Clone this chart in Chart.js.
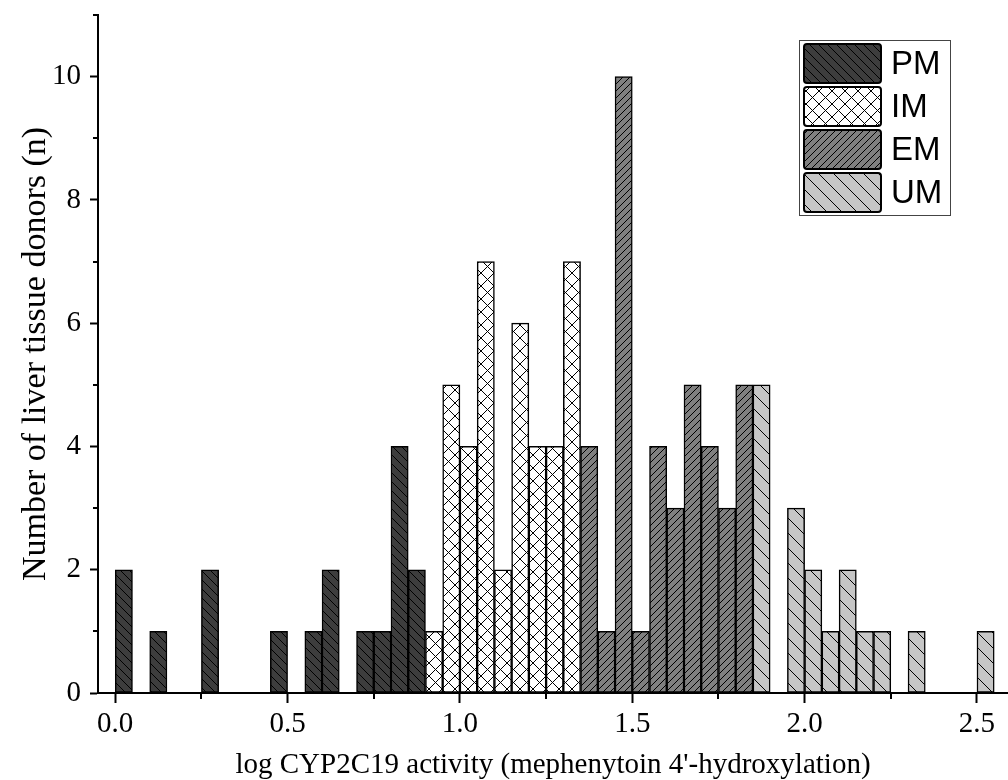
<!DOCTYPE html>
<html>
<head>
<meta charset="utf-8">
<script src="https://cdn.jsdelivr.net/npm/chart.js@4.4.1/dist/chart.umd.min.js"></script>
<style>
  html, body { margin: 0; padding: 0; background: #fff; }
  #wrap { width: 1008px; height: 780px; }
</style>
</head>
<body>
<div id="wrap"><canvas id="histChart"></canvas></div>
<script>
// bin lower edges (log activity) and counts per phenotype group
const binWidth = 0.05;
const pmBins = [0.00, 0.10, 0.25, 0.45, 0.55, 0.60, 0.70, 0.75, 0.80, 0.85];
const pmCounts = [2, 1, 2, 1, 1, 2, 1, 1, 4, 2];
const imBins = [0.90, 0.95, 1.00, 1.05, 1.10, 1.15, 1.20, 1.25, 1.30];
const imCounts = [1, 5, 4, 7, 2, 6, 4, 4, 7];
const emBins = [1.35, 1.40, 1.45, 1.50, 1.55, 1.60, 1.65, 1.70, 1.75, 1.80];
const emCounts = [4, 1, 10, 1, 4, 3, 5, 4, 3, 5];
const umBins = [1.85, 1.95, 2.00, 2.05, 2.10, 2.15, 2.20, 2.30, 2.50];
const umCounts = [5, 3, 2, 1, 2, 1, 1, 1, 1];

const groupLabels = ['PM', 'IM', 'EM', 'UM'];
const xTickLabels = ['0.0', '0.5', '1.0', '1.5', '2.0', '2.5'];
const yTickLabels = ['0', '2', '4', '6', '8', '10'];

function toPoints(bins, counts) {
  return bins.map((b, i) => ({ x: b + binWidth / 2, y: counts[i] }));
}

// hatch fill, tile size s, dirs: '\\' and/or '/'
function hatch(bg, s, dirs) {
  const c = document.createElement('canvas');
  c.width = s; c.height = s;
  const g = c.getContext('2d');
  g.fillStyle = bg;
  g.fillRect(0, 0, s, s);
  g.strokeStyle = '#000';
  g.lineWidth = 1;
  dirs.forEach(d => {
    g.beginPath();
    for (let o = -s; o <= s; o += s) {
      if (d === '\\') { g.moveTo(o, 0); g.lineTo(o + s, s); }
      else { g.moveTo(o, s); g.lineTo(o + s, 0); }
    }
    g.stroke();
  });
  return g.createPattern(c, 'repeat');
}

const fills = [
  hatch('#3d3d3d', 9, ['\\']),
  hatch('#ffffff', 13, ['\\', '/']),
  hatch('#808080', 7, ['/']),
  hatch('#c6c6c6', 15, ['\\'])
];

const isMajorX = v => Math.abs(v / 0.5 - Math.round(v / 0.5)) < 1e-6;
const isMajorY = v => Math.abs(v / 2 - Math.round(v / 2)) < 1e-6;

// short minor ticks + framed legend
const extrasPlugin = {
  id: 'extras',
  afterDraw(chart) {
    const ctx = chart.ctx;
    const area = chart.chartArea;
    const xs = chart.scales.x, ys = chart.scales.y;
    ctx.save();
    ctx.strokeStyle = '#000';
    ctx.lineWidth = 2;
    ctx.beginPath();
    xs.ticks.forEach(t => {
      if (!isMajorX(t.value)) {
        const px = Math.round(xs.getPixelForValue(t.value));
        ctx.moveTo(px, area.bottom); ctx.lineTo(px, area.bottom + 6);
      }
    });
    ys.ticks.forEach(t => {
      if (!isMajorY(t.value)) {
        const py = Math.round(ys.getPixelForValue(t.value));
        ctx.moveTo(area.left, py); ctx.lineTo(area.left - 5, py);
      }
    });
    ctx.stroke();

    // legend box
    const bx = area.right - 209, by = area.top + 25;
    ctx.lineWidth = 1;
    ctx.strokeStyle = '#444';
    ctx.strokeRect(bx + 0.5, by + 0.5, 151, 175);
    chart.data.datasets.forEach((ds, i) => {
      const sy = by + 4 + i * 43;
      ctx.beginPath();
      ctx.roundRect(bx + 5, sy, 77, 39, 3);
      ctx.fillStyle = ds.backgroundColor;
      ctx.fill();
      ctx.lineWidth = 2;
      ctx.strokeStyle = '#000';
      ctx.stroke();
      ctx.fillStyle = '#000';
      ctx.font = '33px "Liberation Sans", Arial, sans-serif';
      ctx.textBaseline = 'middle';
      ctx.textAlign = 'left';
      ctx.fillText(ds.label, bx + 92, sy + 21);
    });
    ctx.restore();
  }
};

const serif = '"Liberation Serif", "Times New Roman", serif';

new Chart(document.getElementById('histChart'), {
  type: 'bar',
  data: {
    datasets: [
      { label: groupLabels[0], data: toPoints(pmBins, pmCounts), backgroundColor: fills[0] },
      { label: groupLabels[1], data: toPoints(imBins, imCounts), backgroundColor: fills[1] },
      { label: groupLabels[2], data: toPoints(emBins, emCounts), backgroundColor: fills[2] },
      { label: groupLabels[3], data: toPoints(umBins, umCounts), backgroundColor: fills[3] }
    ]
  },
  options: {
    responsive: true,
    maintainAspectRatio: false,
    animation: false,
    datasets: {
      bar: {
        borderColor: '#000',
        borderWidth: 1.5,
        borderSkipped: false,
        barPercentage: 1,
        categoryPercentage: 1,
        grouped: false
      }
    },
    layout: { padding: { top: 15, left: 0, right: 0, bottom: 0 } },
    plugins: {
      legend: { display: false },
      tooltip: { enabled: false }
    },
    scales: {
      x: {
        type: 'linear',
        offset: false,
        min: -0.05,
        max: 2.59,
        stacked: true,
        afterFit: scale => {
          scale.height = 87;
          scale.paddingLeft = 0;
          scale.paddingRight = 0;
        },
        border: { color: '#000', width: 2 },
        grid: {
          offset: false,
          drawOnChartArea: false,
          tickLength: 10,
          tickWidth: 2,
          tickColor: c => (c.tick && isMajorX(c.tick.value)) ? '#000' : 'rgba(0,0,0,0)'
        },
        ticks: {
          stepSize: 0.25,
          includeBounds: false,
          autoSkip: false,
          maxRotation: 0,
          padding: 4,
          color: '#000',
          font: { family: serif, size: 29 },
          callback: function(value) {
            if (!isMajorX(value)) return '';
            return xTickLabels[Math.round(value / 0.5)];
          }
        },
        title: {
          display: true,
          text: "log CYP2C19 activity (mephenytoin 4'-hydroxylation)",
          color: '#000',
          font: { family: serif, size: 29 },
          padding: { top: 0, bottom: -3 }
        }
      },
      y: {
        min: 0,
        max: 11,
        stacked: true,
        afterFit: scale => {
          scale.width = 98;
          scale.paddingTop = 0;
          scale.paddingBottom = 0;
        },
        border: { color: '#000', width: 2 },
        grid: {
          drawOnChartArea: false,
          tickLength: 8,
          tickWidth: 2,
          tickColor: c => (c.tick && isMajorY(c.tick.value)) ? '#000' : 'rgba(0,0,0,0)'
        },
        ticks: {
          stepSize: 1,
          autoSkip: false,
          padding: 9,
          color: '#000',
          font: { family: serif, size: 29 },
          callback: function(value) {
            if (!isMajorY(value)) return '';
            return yTickLabels[Math.round(value / 2)];
          }
        },
        title: {
          display: true,
          text: 'Number of liver tissue donors (n)',
          color: '#000',
          font: { family: serif, size: 34 },
          padding: { top: 16, bottom: 0 }
        }
      }
    }
  },
  plugins: [extrasPlugin]
});
</script>
</body>
</html>
